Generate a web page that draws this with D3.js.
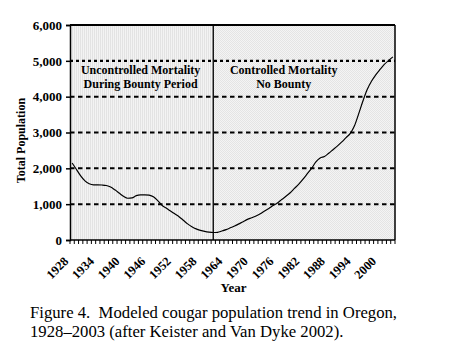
<!DOCTYPE html>
<html><head><meta charset="utf-8">
<script src="https://cdn.jsdelivr.net/npm/d3@7"></script>
<style>
body{margin:0;background:#fff;}
svg{display:block;}
text{font-family:"Liberation Serif","Times New Roman",serif;fill:#000;}
</style></head>
<body>
<svg id="c" width="460" height="355"></svg>
<script>
const startYear = 1928, endYear = 2003;
const years = d3.range(startYear, endYear + 1);
const population = [
 2150,1970,1790,1650,1570,1540,1540,1535,1520,1480,
 1400,1310,1220,1165,1175,1240,1262,1262,1250,1205,
 1100,970,890,810,730,650,550,450,370,310,
 270,240,220,210,215,250,290,340,390,450,
 510,575,620,670,730,810,880,960,1030,1130,
 1220,1320,1440,1560,1700,1850,2000,2180,2290,2330,
 2420,2520,2620,2730,2850,2970,3180,3520,3880,4200,
 4430,4610,4760,4900,5010,5110
];
const yTicks = [0,1000,2000,3000,4000,5000,6000];
const xLabelYears = [1928,1934,1940,1946,1952,1958,1964,1970,1976,1982,1988,1994,2000];
const bountyEndYear = 1961;
const regionLabels = [["Uncontrolled Mortality","During Bounty Period"],["Controlled Mortality","No Bounty"]];
const caption = ["Figure 4.\u00a0 Modeled cougar population trend in Oregon,","1928\u20132003 (after Keister and Van Dyke 2002)."];

const L = 70, R = 395, T = 25, B = 240;
const svg = d3.select("#c");
const x = d3.scaleBand().domain(years).range([L, R]).padding(0);
const y = d3.scaleLinear().domain([0, 6000]).range([B, T]);
const cx = d => x(d) + x.bandwidth() / 2;
const divX = cx(bountyEndYear);

// patterns
const defs = svg.append("defs");
const p1 = defs.append("pattern").attr("id","stripes").attr("patternUnits","userSpaceOnUse").attr("width",2).attr("height",2);
p1.append("rect").attr("width",2).attr("height",2).attr("fill","#f3f3f3");
p1.append("rect").attr("width",1).attr("height",2).attr("fill","#e3e3e3");
const p2 = defs.append("pattern").attr("id","dots").attr("patternUnits","userSpaceOnUse").attr("width",2).attr("height",2);
p2.append("rect").attr("width",2).attr("height",2).attr("fill","#f4f4f4");
p2.append("rect").attr("width",1).attr("height",1).attr("fill","#e4e4e4");
p2.append("rect").attr("x",1).attr("y",1).attr("width",1).attr("height",1).attr("fill","#e4e4e4");

svg.append("rect").attr("x",L).attr("y",T).attr("width",divX-L).attr("height",B-T).attr("fill","url(#stripes)");
svg.append("rect").attr("x",divX).attr("y",T).attr("width",R-divX).attr("height",B-T).attr("fill","url(#dots)");

// gridlines
svg.append("g").selectAll("line").data(yTicks.filter(v => v > 0 && v < 6000)).join("line")
  .attr("x1", L).attr("x2", R).attr("y1", d => y(d)).attr("y2", d => y(d))
  .attr("stroke", "#000")
  .attr("stroke-width", d => d === 5000 ? 2.4 : 2)
  .attr("stroke-dasharray", d => d === 5000 ? "3,3" : "4.5,3.5");

// frame
svg.append("line").attr("x1",L).attr("x2",R).attr("y1",T).attr("y2",T).attr("stroke","#000").attr("stroke-width",2);
svg.append("line").attr("x1",R).attr("x2",R).attr("y1",T).attr("y2",B).attr("stroke","#000").attr("stroke-width",1.5);
svg.append("line").attr("x1",divX).attr("x2",divX).attr("y1",T).attr("y2",B).attr("stroke","#000").attr("stroke-width",1.3);

// y axis
const yAxis = d3.axisLeft(y).tickValues(yTicks).tickFormat(d3.format(",")).tickSize(4).tickPadding(4);
const gy = svg.append("g").attr("transform",`translate(${L},0)`).call(yAxis);
gy.select(".domain").attr("stroke","#000").attr("stroke-width",1.5);
gy.selectAll(".tick line").attr("stroke","#000").attr("stroke-width",1.5);
gy.selectAll("text").style("font-family","Liberation Serif").style("font-size","13px").style("font-weight","bold").attr("fill","#000");

// x axis: minor ticks at band boundaries
const bounds = years.map(d => x(d)).concat([R]);
svg.append("line").attr("x1",L).attr("x2",R).attr("y1",B).attr("y2",B).attr("stroke","#000").attr("stroke-width",1.5);
svg.append("g").selectAll("line").data(bounds).join("line")
  .attr("x1", d => d).attr("x2", d => d).attr("y1", B).attr("y2", B + 4)
  .attr("stroke","#000").attr("stroke-width",1);
svg.append("g").selectAll("text").data(xLabelYears).join("text")
  .attr("transform", d => `translate(${cx(d) - 3},${B + 22}) rotate(-45)`)
  .attr("text-anchor","end")
  .style("font-size","12.5px").style("font-weight","bold")
  .text(d => d);

// line
const line = d3.line().x((d,i) => cx(years[i])).y(d => y(d)).curve(d3.curveMonotoneX);
svg.append("path").datum(population).attr("d", line).attr("fill","none").attr("stroke","#000").attr("stroke-width",1.2);

// region labels
const regionCenters = [(L + divX) / 2 - 1, cx(1977) + 2];
regionLabels.forEach((lines, k) => {
  lines.forEach((t, j) => {
    svg.append("text").attr("x", regionCenters[k]).attr("y", 74 + j * 13.5)
      .attr("text-anchor","middle").style("font-size","12px").style("font-weight","bold")
      .text(t);
  });
});

// axis titles
svg.append("text").attr("transform",`translate(25,${(T+B)/2 + 8}) rotate(-90)`).attr("text-anchor","middle")
  .style("font-size","12px").style("font-weight","bold").text("Total Population");
svg.append("text").attr("x",(L+R)/2 + 1).attr("y",292).attr("text-anchor","middle")
  .style("font-size","13px").style("font-weight","bold").text("Year");

// caption
caption.forEach((t, j) => {
  svg.append("text").attr("x",30).attr("y",318 + j * 18.5).style("font-size","16.7px").text(t);
});
</script>
</body></html>
